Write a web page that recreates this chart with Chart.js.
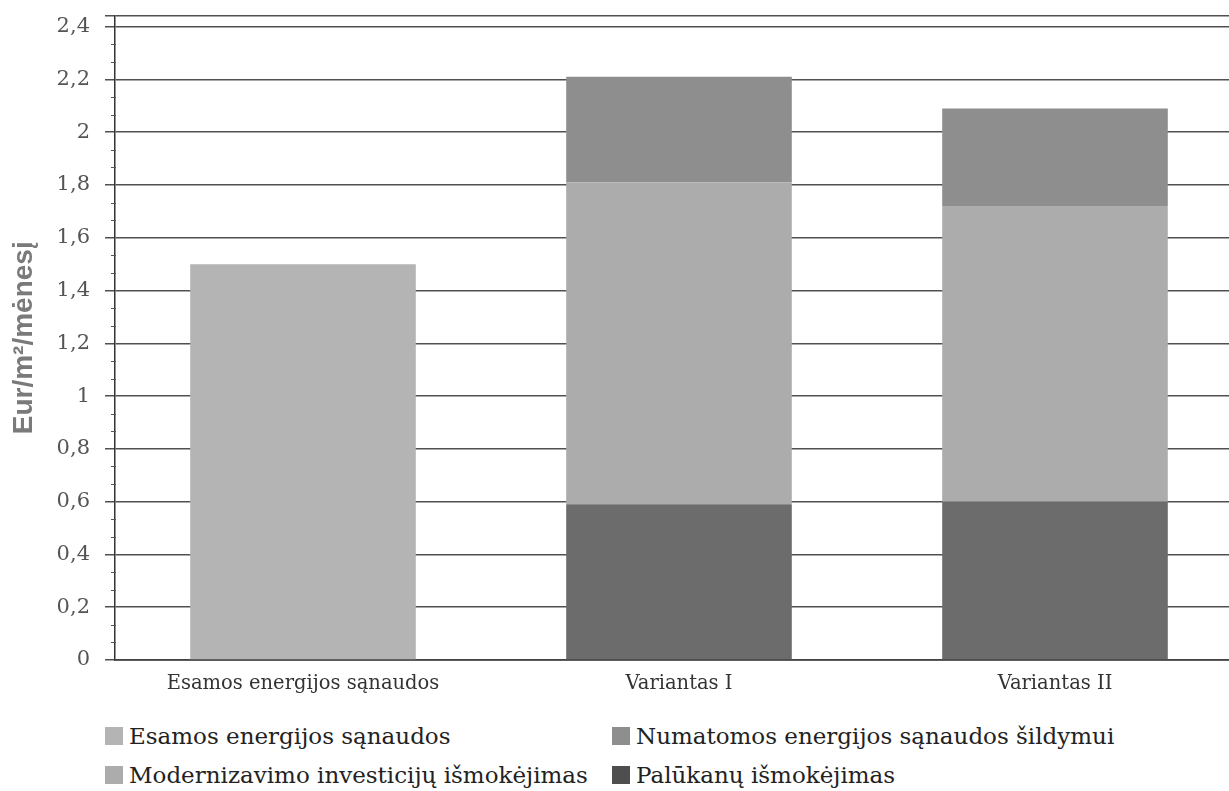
<!DOCTYPE html>
<html>
<head>
<meta charset="utf-8">
<script src="https://cdn.jsdelivr.net/npm/chart.js@4/dist/chart.umd.min.js"></script>
<style>
    html, body { margin: 0; padding: 0; background: #fff; overflow: hidden; }
    #wrap { position: relative; width: 1229px; height: 791px; overflow: hidden; }
    #chartBox { position: absolute; left: 0; top: -12px; width: 1245px; height: 727px; }
    #legend { position: absolute; left: 105px; top: 722px; width: 1100px; font-family: 'DejaVu Serif', serif; font-size: 23px; color: #222; }
    .item { position: absolute; display: flex; align-items: center; white-space: nowrap; height: 28px; }
    .sw { width: 18px; height: 18px; margin-right: 6px; }
</style>
</head>
<body>
<div id="wrap">
    <div id="chartBox"><canvas id="chart"></canvas></div>
    <div id="legend"></div>
</div>
<script>
// 데이터
const categories = ['Esamos energijos sąnaudos', 'Variantas I', 'Variantas II'];
const esamos = [1.5, null, null];
const palukanu = [null, 0.59, 0.6];
const modernizavimo = [null, 1.22, 1.12];
const numatomos = [null, 0.4, 0.37];
const yTicks = [0, 0.2, 0.4, 0.6, 0.8, 1, 1.2, 1.4, 1.6, 1.8, 2, 2.2, 2.4];

const colors = {
    esamos: '#b4b4b4',
    modernizavimo: '#acacac',
    numatomos: '#8e8e8e',
    palukanu: '#6c6c6c'
};

const datasets = [
    { label: 'Esamos energijos sąnaudos', data: esamos, backgroundColor: colors.esamos },
    { label: 'Palūkanų išmokėjimas', data: palukanu, backgroundColor: colors.palukanu },
    { label: 'Modernizavimo investicijų išmokėjimas', data: modernizavimo, backgroundColor: colors.modernizavimo },
    { label: 'Numatomos energijos sąnaudos šildymui', data: numatomos, backgroundColor: colors.numatomos }
];

// 보조 눈금 (주 눈금 사이 3등분)
const minorTicks = {
    id: 'minorTicks',
    afterDatasetsDraw(chart) {
        const y = chart.scales.y;
        const ctx = chart.ctx;
        const x0 = y.right;
        ctx.save();
        ctx.strokeStyle = '#555';
        ctx.lineWidth = 1;
        for (let i = 0; i < yTicks.length - 1; i++) {
            const step = (yTicks[i + 1] - yTicks[i]) / 3;
            for (let k = 1; k < 3; k++) {
                const py = Math.round(y.getPixelForValue(yTicks[i] + step * k)) + 0.5;
                ctx.beginPath();
                ctx.moveTo(x0 - 4, py);
                ctx.lineTo(x0 + 1, py);
                ctx.stroke();
            }
        }
        ctx.restore();
    }
};

const serif = "'DejaVu Serif', serif";

new Chart(document.getElementById('chart'), {
    type: 'bar',
    data: { labels: categories, datasets: datasets },
    plugins: [minorTicks],
    options: {
        responsive: true,
        maintainAspectRatio: false,
        animation: false,
        layout: { padding: { top: 6, right: 2, left: 0, bottom: 0 } },
        datasets: { bar: { barPercentage: 0.6, categoryPercentage: 1, grouped: false } },
        plugins: { legend: { display: false }, tooltip: { enabled: false } },
        scales: {
            x: {
                stacked: true,
                grid: { display: false },
                border: { color: '#444', width: 1.8 },
                ticks: { color: '#333', padding: 4, font: { family: serif, size: 19.5 } },
                afterFit: (axis) => { axis.height = 55; }
            },
            y: {
                stacked: true,
                min: 0,
                max: 2.442,
                afterBuildTicks: (axis) => {
                    axis.ticks = yTicks.concat([2.442]).map(v => ({ value: v }));
                },
                grid: { color: '#505050', lineWidth: 1.5, tickLength: 10 },
                border: { color: '#333', width: 1.5 },
                ticks: {
                    color: '#555',
                    padding: 15,
                    font: { family: serif, size: 21 },
                    callback: (v) => yTicks.includes(v) ? String(v).replace('.', ',') : ''
                },
                title: {
                    display: true,
                    text: 'Eur/m²/mėnesį',
                    color: '#7a7a7a',
                    font: { family: "'Liberation Sans', Arial, sans-serif", size: 28, weight: 'bold' },
                    padding: { top: 7, bottom: 0 }
                },
                afterFit: (axis) => { axis.width = 115; }
            }
        }
    }
});

// 범례 (2열)
const legendOrder = [
    { label: 'Esamos energijos sąnaudos', color: colors.esamos, col: 0, row: 0 },
    { label: 'Modernizavimo investicijų išmokėjimas', color: colors.modernizavimo, col: 0, row: 1 },
    { label: 'Numatomos energijos sąnaudos šildymui', color: colors.numatomos, col: 1, row: 0 },
    { label: 'Palūkanų išmokėjimas', color: '#4e4e4e', col: 1, row: 1 }
];
document.getElementById('legend').innerHTML = legendOrder.map(it => `
    <div class="item" style="left:${it.col * 507}px; top:${it.row * 39}px">
        <span class="sw" style="background:${it.color}"></span>${it.label}
    </div>
`).join('');
</script>
</body>
</html>
